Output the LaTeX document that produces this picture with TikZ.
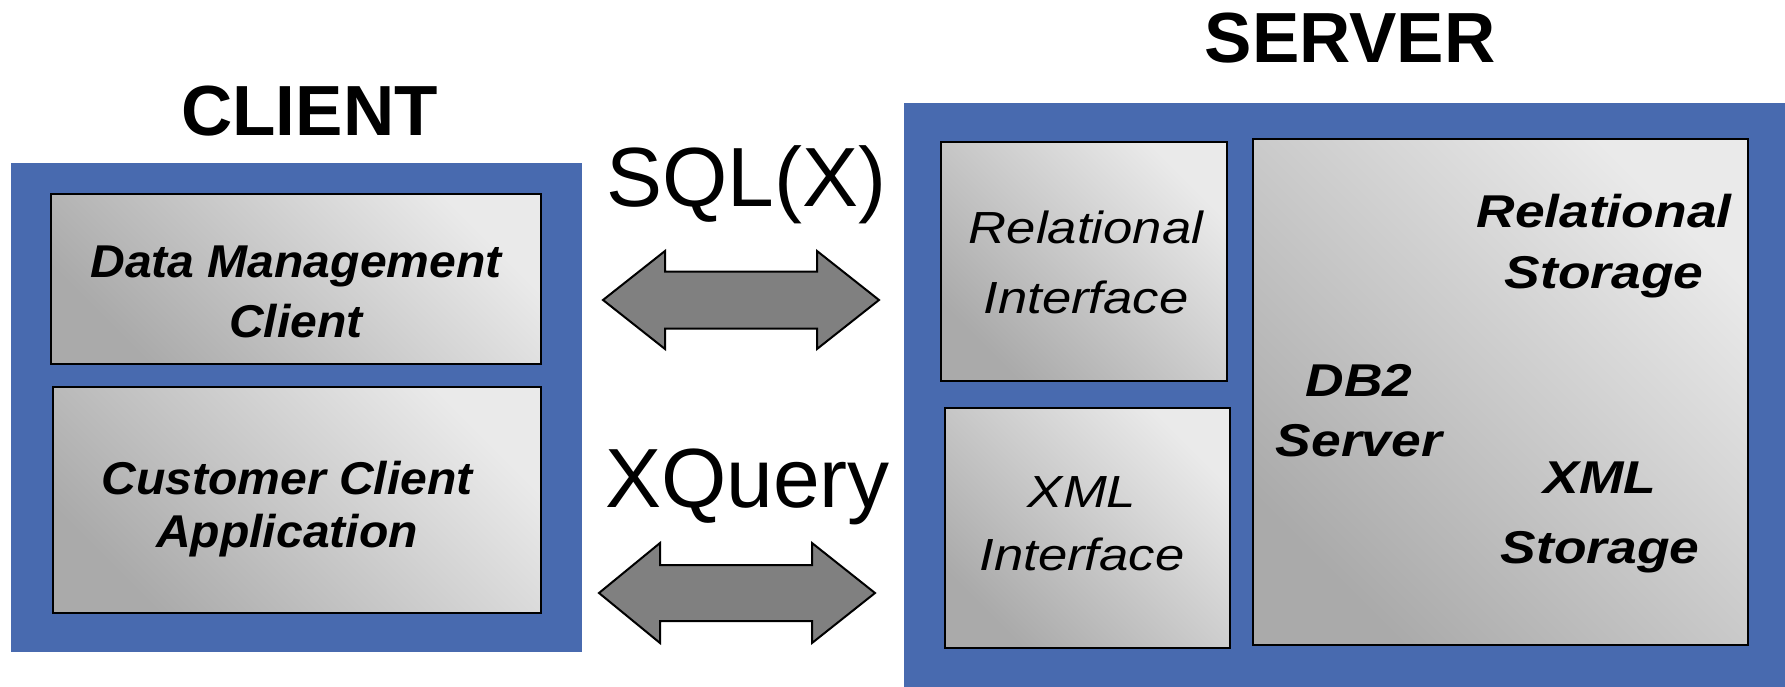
\documentclass[tikz,border=0pt]{standalone}
\usepackage{fontspec}
\setmainfont{Liberation Sans}
\newfontfamily\clientfont[FakeStretch=1.045]{Liberation Sans}
\newfontfamily\ifacefont[FakeStretch=1.17]{Liberation Sans}
\newfontfamily\storfont[FakeStretch=1.16]{Liberation Sans}
\definecolor{panelblue}{RGB}{72,106,175}
\definecolor{arrowgray}{RGB}{128,128,128}
\definecolor{boxlight}{RGB}{234,234,234}
\definecolor{boxdark}{RGB}{170,170,170}
\begin{document}
\begin{tikzpicture}[x=1pt,y=-1pt,
  panel/.style={fill=panelblue, draw=none, inner sep=0pt, outer sep=0pt, anchor=north west},
  box/.style={draw=black, line width=2pt, top color=boxlight, bottom color=boxdark, shading angle=-45,
              inner sep=0pt, outer sep=0pt, anchor=north west},
  lbl/.style={align=center, inner sep=0pt, text=black},
  title/.style={inner sep=0pt, anchor=base, font=\bfseries\fontsize{71}{71}\selectfont},
  proto/.style={inner sep=0pt, anchor=base, font=\fontsize{84}{84}\selectfont},
  blockarrow/.style={fill=arrowgray, draw=black, line width=2pt, line join=miter}
]
\useasboundingbox (0,0) rectangle (1785,687);

% panels
\node[panel, minimum width=571pt, minimum height=489pt] (client) at (11,163) {};
\node[panel, minimum width=881pt, minimum height=584pt] (server) at (904,103) {};

% client boxes
\node[box, minimum width=490pt, minimum height=170pt] (dm) at (51,194) {};
\node[box, minimum width=488pt, minimum height=226pt] (cust) at (53,387) {};

% server boxes
\node[box, minimum width=286pt, minimum height=239pt] (relif) at (941,142) {};
\node[box, minimum width=285pt, minimum height=240pt] (xmlif) at (945,408) {};
\node[box, minimum width=495pt, minimum height=506pt] (db2) at (1253,139) {};

% titles
\node[title] (clienttitle) at (309.5,136) {CLIENT};
\node[title] (servertitle) at (1350,63) {SERVER};

% protocol labels
\node[proto] (sqlx) at (746.5,207) {SQL(X)};
\node[proto] (xquery) at (747.5,507) {XQuery};

% box texts
\node[lbl, font=\clientfont\bfseries\itshape\fontsize{46}{60}\selectfont] (dmtext) at (296,291.5) {Data Management\\Client};
\node[lbl, font=\clientfont\bfseries\itshape\fontsize{46}{53}\selectfont] (custtext) at (287,509) {Customer Client\\Application};
\node[lbl, font=\ifacefont\itshape\fontsize{45}{70}\selectfont] (reliftext) at (1086,262) {Relational\\Interface};
\node[lbl, font=\ifacefont\itshape\fontsize{45}{63}\selectfont] (xmliftext) at (1082,524) {XML\\Interface};
\node[lbl, font=\storfont\bfseries\itshape\fontsize{46}{61}\selectfont] (relstor) at (1604,246.5) {Relational\\Storage};
\node[lbl, font=\storfont\bfseries\itshape\fontsize{46}{60}\selectfont] (db2text) at (1359,411) {DB2\\Server};
\node[lbl, font=\storfont\bfseries\itshape\fontsize{46}{70}\selectfont] (xmlstor) at (1600,517.5) {XML\\Storage};

% block arrows
\draw[blockarrow] (603,300) -- (665,251) -- (665,271.5) -- (817,271.5) -- (817,251) -- (879,300)
   -- (817,349) -- (817,328.5) -- (665,328.5) -- (665,349) -- cycle;
\draw[blockarrow] (599,593) -- (660,543) -- (660,565) -- (812,565) -- (812,543) -- (875,593)
   -- (812,643) -- (812,621) -- (660,621) -- (660,643) -- cycle;
\end{tikzpicture}
\end{document}
